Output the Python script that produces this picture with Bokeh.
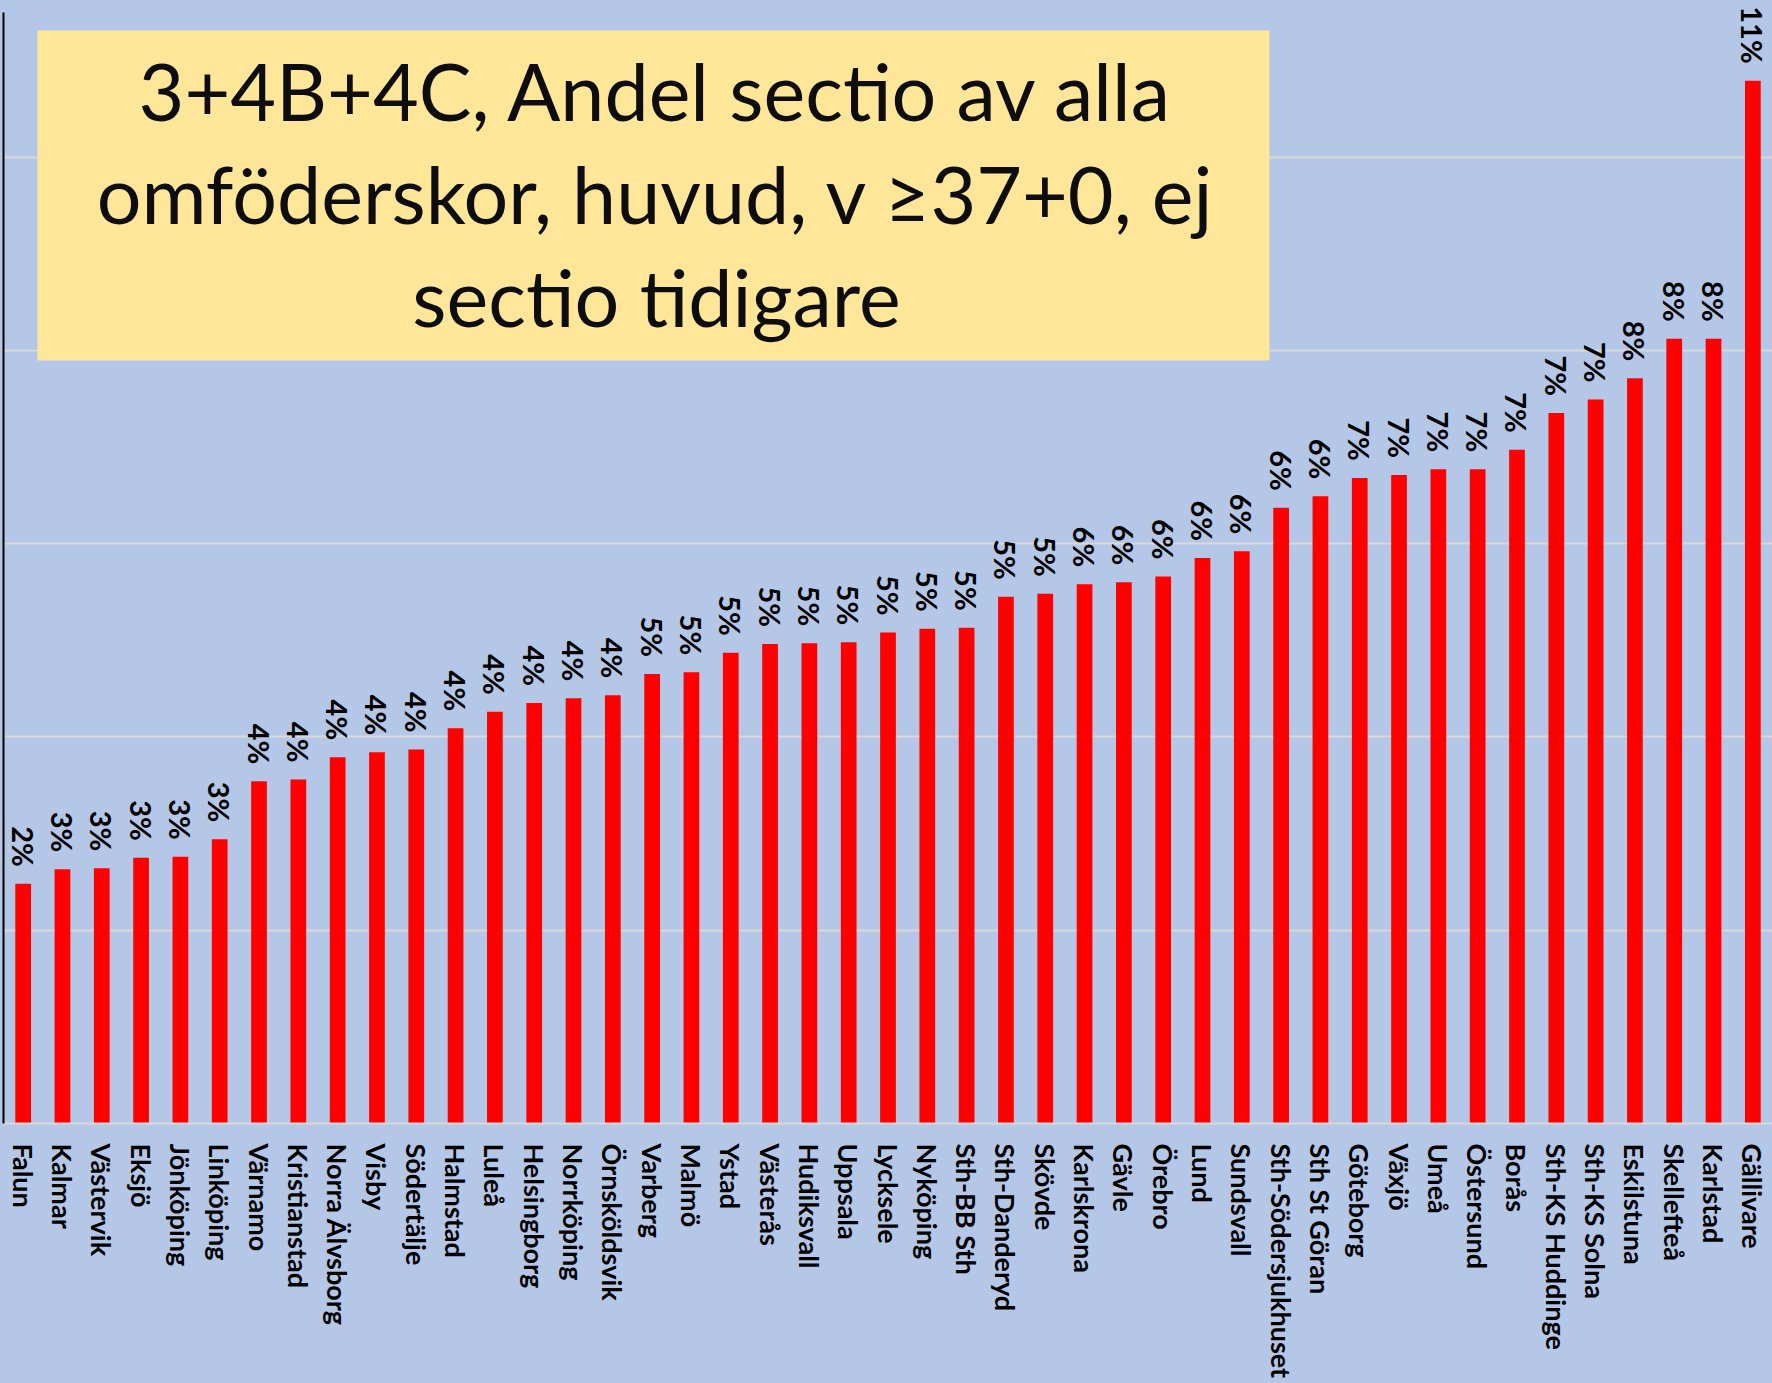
from math import pi
from bokeh.plotting import figure
from bokeh.models import ColumnDataSource, FactorRange, Range1d, FixedTicker, BoxAnnotation, Label
from bokeh.core.properties import value
from bokeh.embed import file_html
from bokeh.resources import INLINE

# ---------------- data ----------------
hospitals = ["Falun", "Kalmar", "Västervik", "Eksjö", "Jönköping", "Linköping", "Värnamo",
             "Kristianstad", "Norra Älvsborg", "Visby", "Södertälje", "Halmstad", "Luleå",
             "Helsingborg", "Norrköping", "Örnsköldsvik", "Varberg", "Malmö", "Ystad",
             "Västerås", "Hudiksvall", "Uppsala", "Lycksele", "Nyköping", "Sth-BB Sth",
             "Sth-Danderyd", "Skövde", "Karlskrona", "Gävle", "Örebro", "Lund", "Sundsvall",
             "Sth-Södersjukhuset", "Sth St Göran", "Göteborg", "Växjö", "Umeå", "Östersund",
             "Borås", "Sth-KS Huddinge", "Sth-KS Solna", "Eskilstuna", "Skellefteå",
             "Karlstad", "Gällivare"]
share_pct = [2.48, 2.63, 2.64, 2.75, 2.76, 2.94, 3.54, 3.56, 3.79, 3.84, 3.87, 4.09, 4.26,
             4.35, 4.40, 4.43, 4.65, 4.67, 4.87, 4.96, 4.97, 4.98, 5.08, 5.12, 5.13,
             5.45, 5.48, 5.58, 5.60, 5.66, 5.85, 5.92, 6.37, 6.49, 6.68, 6.71, 6.77, 6.77,
             6.97, 7.35, 7.49, 7.71, 8.12, 8.12, 10.79]
value_labels = ["2%", "3%", "3%", "3%", "3%", "3%", "4%", "4%", "4%", "4%", "4%", "4%", "4%",
                "4%", "4%", "4%", "5%", "5%", "5%", "5%", "5%", "5%", "5%", "5%", "5%",
                "5%", "5%", "6%", "6%", "6%", "6%", "6%", "6%", "6%", "7%", "7%", "7%", "7%",
                "7%", "7%", "7%", "8%", "8%", "8%", "11%"]
grid_ticks = [2, 4, 6, 8, 10]
title_lines = ["3+4B+4C, Andel sectio av alla",
               "omföderskor, huvud, v \u226537+0, ej",
               "sectio tidigare"]

# ---------------- styles ----------------
BG = "#B4C7E7"
BAR = "#FF0000"
BOX = "#FFE699"
W, H = 1772, 1383
BOTTOM = 260
PX_PER_UNIT = 96.65
frame_h = H - BOTTOM
y_top = frame_h / PX_PER_UNIT

src = ColumnDataSource(dict(name=hospitals, val=share_pct, lab=value_labels))

p = figure(width=W, height=H, x_range=FactorRange(*hospitals), y_range=Range1d(0, y_top),
           output_backend="svg", toolbar_location=None, title=None,
           min_border_left=3, min_border_right=0, min_border_top=0, min_border_bottom=BOTTOM)
p.x_range.range_padding = 0
p.background_fill_color = BG
p.border_fill_color = BG
p.outline_line_color = None

p.vbar(x="name", top="val", width=0.40, source=src, fill_color=BAR, line_color=None)

p.text(x="name", y="val", text="lab", source=src, angle=-pi / 2,
       text_align="right", text_baseline="middle", y_offset=-17,
       text_font=value("Lato"), text_font_style="bold", text_font_size="29px",
       text_color="#000000")

# axes / grid
p.xgrid.grid_line_color = None
p.ygrid.ticker = FixedTicker(ticks=grid_ticks)
p.ygrid.grid_line_color = "#D9D9D9"
p.ygrid.grid_line_width = 2

p.yaxis.ticker = FixedTicker(ticks=[])
p.yaxis.major_tick_line_color = None
p.yaxis.minor_tick_line_color = None
p.yaxis.major_tick_out = 0
p.yaxis.major_tick_in = 0
p.yaxis.major_label_standoff = 0
p.yaxis.axis_line_color = "#000000"
p.yaxis.axis_line_width = 2
p.yaxis.bounds = (0, (frame_h - 12) / PX_PER_UNIT)

p.xaxis.axis_line_color = "#D9D9D9"
p.xaxis.axis_line_width = 2
p.xaxis.major_tick_line_color = None
p.xaxis.minor_tick_line_color = None
p.xaxis.major_tick_out = 0
p.xaxis.major_label_standoff = 20
p.xaxis.major_label_orientation = "vertical"
p.xaxis.major_label_text_font = "Lato"
p.xaxis.major_label_text_font_style = "bold"
p.xaxis.major_label_text_font_size = "27px"
p.xaxis.major_label_text_color = "#000000"

# title box
box = BoxAnnotation(left=34, right=1266, left_units="screen", right_units="screen",
                    top=(frame_h - 30) / PX_PER_UNIT, bottom=(frame_h - 360) / PX_PER_UNIT,
                    fill_color=BOX, fill_alpha=1.0, line_color=None, level="overlay")
p.add_layout(box)
baselines = [90, 193, 296]
for txt, b in zip(title_lines, baselines):
    p.add_layout(Label(x=653, x_units="screen", y=(frame_h - b) / PX_PER_UNIT, text=txt,
                       text_align="center", text_baseline="alphabetic",
                       text_font="Lato", text_font_size="79px", text_color="#0D0D0D",
                       level="overlay"))

html = file_html(p, INLINE)
html = html.replace("<head>", "<head><style>html,body{margin:0;padding:0;background:#B4C7E7;overflow:hidden;}</style>", 1)
open("out.html", "w").write(html)
